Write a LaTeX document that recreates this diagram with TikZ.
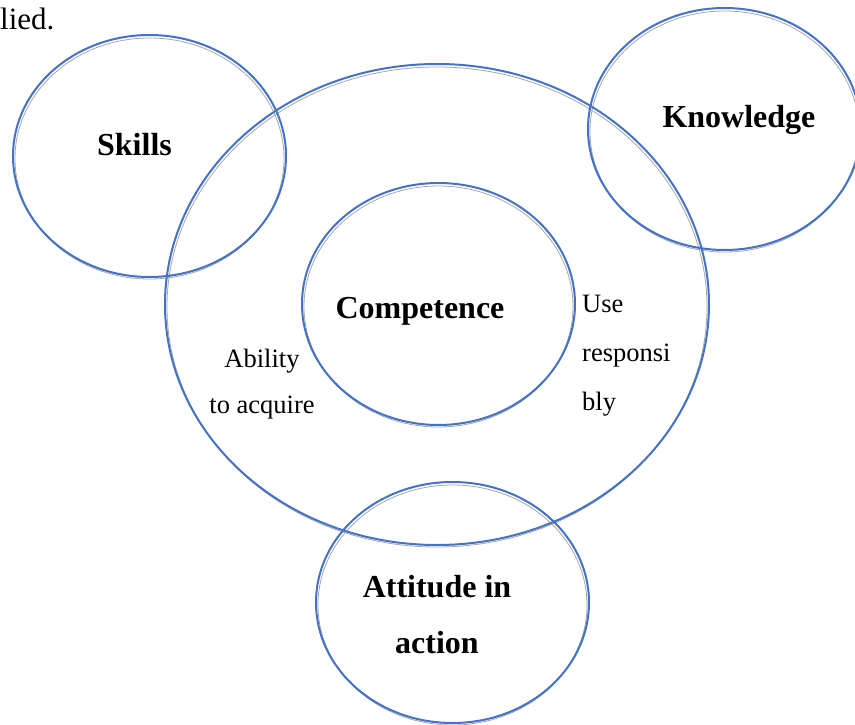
\documentclass[tikz,border=0pt]{standalone}
\usepackage{fontspec}
\setmainfont{Liberation Serif}
\usetikzlibrary{shapes.geometric}
\definecolor{ringblue}{RGB}{68,114,196}
\tikzset{
  ring/.style={draw=ringblue,line width=2pt,shape=ellipse,inner sep=0pt},
  ringshade/.style={draw=black!35,line width=0.8pt,shape=ellipse,inner sep=0pt},
  biglabel/.style={font=\fontsize{32}{56}\selectfont\bfseries,inner sep=0pt,align=center},
  smalllabel/.style={font=\fontsize{26.5}{46}\selectfont,inner sep=0pt},
}
\begin{document}
\begin{tikzpicture}[x=1pt,y=-1pt]
    \useasboundingbox (0,0) rectangle (855,725);
    % grey shade just inside each ring
    \foreach \cx/\cy/\rw/\rh in {149.5/156/273/242, 437/304.5/544/481, 724.5/129/273/242,
                                 438.5/304/273/242, 452.5/602.5/273/241}
      \node[ringshade,minimum width={(\rw-4)*1pt},minimum height={(\rh-1)*1pt}] at (\cx,\cy+2.5) {};
    % the rings
    \foreach \name/\cx/\cy/\rw/\rh in {skills/149.5/156/273/242, outer/437/304.5/544/481,
                                       knowledge/724.5/129/273/242, competence/438.5/304/273/242,
                                       attitude/452.5/602.5/273/241}
      \node[ring,minimum width=\rw pt,minimum height=\rh pt] (\name) at (\cx,\cy) {};

    % labels (multi-line nodes sit on their last baseline)
    \node[font=\fontsize{31}{36}\selectfont,inner sep=0pt,anchor=base west] (lied) at (0,30) {lied.};
    \node[biglabel,anchor=base] (skillstext) at (134.5,155) {Skills};
    \node[biglabel,anchor=base] (knowledgetext) at (739,128) {Knowledge};
    \node[biglabel,anchor=base] (competencetext) at (420,318) {Competence};
    \node[biglabel,anchor=base] (attitudetext) at (437,653) {Attitude in\\action};
    \node[smalllabel,align=center,anchor=base] (abilitytext) at (262,413) {Ability\\to acquire};
    \node[smalllabel,align=left,anchor=base west,font=\fontsize{26.5}{49}\selectfont] (usetext) at (582,410) {Use\\responsi\\bly};
\end{tikzpicture}
\end{document}
